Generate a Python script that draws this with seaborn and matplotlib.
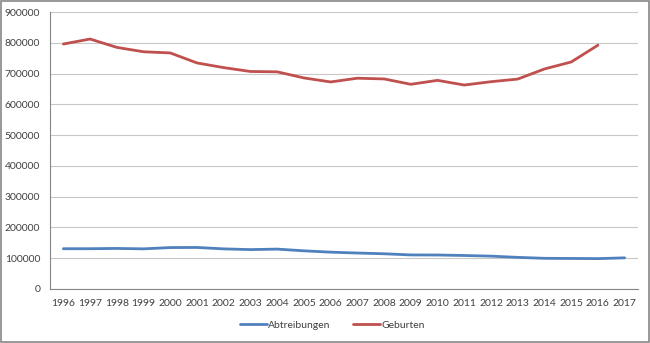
import matplotlib
matplotlib.use("Agg")
import matplotlib.pyplot as plt
import seaborn as sns
import pandas as pd
import numpy as np
from matplotlib.patches import Rectangle

years = list(range(1996, 2018))
abtreibungen = [130899, 130890, 131795, 130471, 134609, 134964, 130387, 128030,
                129650, 124023, 119710, 116871, 114484, 110694, 110431, 108867,
                106815, 102802, 99715, 99237, 98721, 101209]
geburten_years = list(range(1996, 2017))
geburten = [796013, 812173, 785034, 770744, 766999, 734475, 719250, 706721,
            705622, 685795, 672724, 684862, 682514, 665126, 677947, 662685,
            673544, 682069, 714927, 737575, 792131]
series_names = ["Abtreibungen", "Geburten"]
colors = ["#4F81BD", "#C0504D"]
yticks = list(range(0, 900001, 100000))

df = pd.concat([
    pd.DataFrame({"Jahr": years, "Wert": abtreibungen, "Serie": series_names[0]}),
    pd.DataFrame({"Jahr": geburten_years, "Wert": geburten, "Serie": series_names[1]}),
])

sns.set_theme(style="white")
plt.rcParams["font.family"] = ["Lato", "DejaVu Sans"]

fig = plt.figure(figsize=(6.5, 3.43), dpi=100)
ax = fig.add_axes([50/650, 1-289/343, 588/650, 277/343])

sns.lineplot(data=df, x="Jahr", y="Wert", hue="Serie", palette=colors,
             hue_order=series_names, linewidth=2.0, ax=ax, legend=False)

ax.set_xlim(1995.5, 2017.5)
ax.set_ylim(0, 900000)
ax.set_yticks(yticks)
ax.set_yticklabels([str(v) for v in yticks], fontsize=7.5, color="#404040")
ax.set_xticks(years)
ax.set_xticklabels([str(y) for y in years], fontsize=7.5, color="#404040")
ax.set_xticks(np.arange(1995.5, 2018, 1.0), minor=True)
ax.tick_params(axis="x", which="major", length=0, pad=7)
ax.tick_params(axis="x", which="minor", length=4, color="#868686", width=0.8, direction="out")
ax.tick_params(axis="y", which="major", length=4, color="#868686", width=0.8, direction="out", pad=3)
ax.set_xlabel("")
ax.set_ylabel("")
ax.yaxis.grid(True, color="#C8C8C8", linewidth=0.8)
ax.set_axisbelow(True)
for s in ["top", "right"]:
    ax.spines[s].set_visible(False)
for s in ["left", "bottom"]:
    ax.spines[s].set_color("#868686")
    ax.spines[s].set_linewidth(0.8)

from matplotlib.lines import Line2D
handles = [Line2D([0], [0], color=c, linewidth=2.0) for c in colors]
fig.legend(handles, series_names, loc="center", bbox_to_anchor=(332/650, 1-325/343),
           ncol=2, frameon=False, fontsize=7.5, handlelength=2.6, handletextpad=0.1,
           columnspacing=2.2, labelcolor="#404040")

fig.patches.append(Rectangle((0.001, 0.002), 0.997, 0.995, transform=fig.transFigure,
                             fill=False, edgecolor="#868686", linewidth=1.2))

fig.savefig("out.png", dpi=100)
